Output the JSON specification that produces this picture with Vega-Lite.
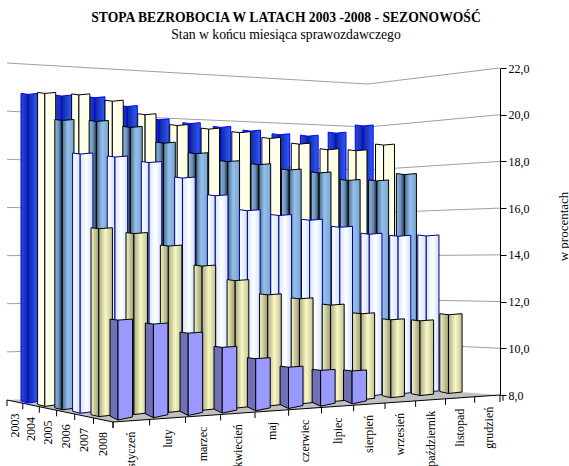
{"$schema":"https://vega.github.io/schema/vega-lite/v6.json","width":500,"height":416,"autosize":"none","padding":{"left":0,"top":50,"right":69,"bottom":0},"background":"white",
"title":{"text":"STOPA BEZROBOCIA W LATACH 2003 -2008 - SEZONOWOŚĆ","subtitle":"Stan w końcu miesiąca sprawozdawczego","anchor":"middle","dx":36,"offset":8,"font":"Liberation Serif","fontSize":13.6,"fontWeight":"bold","color":"black","subtitleFont":"Liberation Serif","subtitleFontSize":13.7,"subtitleColor":"black","subtitlePadding":4},
"config":{"view":{"stroke":null},"text":{"font":"Liberation Serif"}},
"datasets":{"bars":[
{"year":2003,"month":"styczeń","value":20.7},{"year":2003,"month":"luty","value":20.7},{"year":2003,"month":"marzec","value":20.7},{"year":2003,"month":"kwiecień","value":20.4},{"year":2003,"month":"maj","value":19.9},{"year":2003,"month":"czerwiec","value":19.8},{"year":2003,"month":"lipiec","value":19.7},{"year":2003,"month":"sierpień","value":19.6},{"year":2003,"month":"wrzesień","value":19.5},{"year":2003,"month":"październik","value":19.5},{"year":2003,"month":"listopad","value":19.7},{"year":2003,"month":"grudzień","value":20.1},
{"year":2004,"month":"styczeń","value":20.6},{"year":2004,"month":"luty","value":20.6},{"year":2004,"month":"marzec","value":20.4},{"year":2004,"month":"kwiecień","value":19.9},{"year":2004,"month":"maj","value":19.5},{"year":2004,"month":"czerwiec","value":19.4},{"year":2004,"month":"lipiec","value":19.3},{"year":2004,"month":"sierpień","value":19.1},{"year":2004,"month":"wrzesień","value":18.9},{"year":2004,"month":"październik","value":18.7},{"year":2004,"month":"listopad","value":18.7},{"year":2004,"month":"grudzień","value":19.0},
{"year":2005,"month":"styczeń","value":19.4},{"year":2005,"month":"luty","value":19.4},{"year":2005,"month":"marzec","value":19.2},{"year":2005,"month":"kwiecień","value":18.6},{"year":2005,"month":"maj","value":18.2},{"year":2005,"month":"czerwiec","value":17.9},{"year":2005,"month":"lipiec","value":17.8},{"year":2005,"month":"sierpień","value":17.6},{"year":2005,"month":"wrzesień","value":17.5},{"year":2005,"month":"październik","value":17.2},{"year":2005,"month":"listopad","value":17.2},{"year":2005,"month":"grudzień","value":17.5},
{"year":2006,"month":"styczeń","value":18.0},{"year":2006,"month":"luty","value":17.9},{"year":2006,"month":"marzec","value":17.7},{"year":2006,"month":"kwiecień","value":17.1},{"year":2006,"month":"maj","value":16.4},{"year":2006,"month":"czerwiec","value":15.8},{"year":2006,"month":"lipiec","value":15.6},{"year":2006,"month":"sierpień","value":15.4},{"year":2006,"month":"wrzesień","value":15.1},{"year":2006,"month":"październik","value":14.8},{"year":2006,"month":"listopad","value":14.7},{"year":2006,"month":"grudzień","value":14.7},
{"year":2007,"month":"styczeń","value":15.1},{"year":2007,"month":"luty","value":14.9},{"year":2007,"month":"marzec","value":14.4},{"year":2007,"month":"kwiecień","value":13.6},{"year":2007,"month":"maj","value":13.0},{"year":2007,"month":"czerwiec","value":12.4},{"year":2007,"month":"lipiec","value":12.2},{"year":2007,"month":"sierpień","value":11.9},{"year":2007,"month":"wrzesień","value":11.5},{"year":2007,"month":"październik","value":11.2},{"year":2007,"month":"listopad","value":11.1},{"year":2007,"month":"grudzień","value":11.3},
{"year":2008,"month":"styczeń","value":11.7},{"year":2008,"month":"luty","value":11.5},{"year":2008,"month":"marzec","value":11.1},{"year":2008,"month":"kwiecień","value":10.5},{"year":2008,"month":"maj","value":10.0},{"year":2008,"month":"czerwiec","value":9.6},{"year":2008,"month":"lipiec","value":9.4},{"year":2008,"month":"sierpień","value":9.3}],
"grid":[{"v":10},{"v":12},{"v":14},{"v":16},{"v":18},{"v":20},{"v":22}],
"axisv":[{"v":8},{"v":10},{"v":12},{"v":14},{"v":16},{"v":18},{"v":20},{"v":22}],
"months":[{"label":"styczeń","m":0},{"label":"luty","m":1},{"label":"marzec","m":2},{"label":"kwiecień","m":3},{"label":"maj","m":4},{"label":"czerwiec","m":5},{"label":"lipiec","m":6},{"label":"sierpień","m":7},{"label":"wrzesień","m":8},{"label":"październik","m":9},{"label":"listopad","m":10},{"label":"grudzień","m":11}],
"years":[{"label":"2003","s":0},{"label":"2004","s":1},{"label":"2005","s":2},{"label":"2006","s":3},{"label":"2007","s":4},{"label":"2008","s":5}],
"mticks":[{"i":0},{"i":1},{"i":2},{"i":3},{"i":4},{"i":5},{"i":6},{"i":7},{"i":8},{"i":9},{"i":10},{"i":11},{"i":12}],
"sticks":[{"i":0},{"i":1},{"i":2},{"i":3},{"i":4},{"i":5},{"i":6}]},
"layer":[
{"encoding":{"x":{"field":"px","type":"quantitative","scale":{"domain":[0,500],"range":[0,500]},"axis":null},"y":{"field":"py","type":"quantitative","scale":{"domain":[466,50],"range":[416,0]},"axis":null}},
"layer":[
{"data":{"values":[{"c":"A"},{"c":"B"},{"c":"E"},{"c":"C"}]},"transform":[{"calculate":"{'A':7,'B':113,'E':368,'C':500}[datum.c]","as":"px"},{"calculate":"{'A':400,'B':395.6,'E':385,'C':395}[datum.c]","as":"py"},{"calculate":"{'A':400,'B':422,'E':404.2,'C':395}[datum.c]","as":"py2"}],"mark":{"type":"area","orient":"vertical","fill":"#c0c0c0"},"encoding":{"y2":{"field":"py2"}}},
{"data":{"name":"grid"},"transform":[{"fold":["a","b","c"],"as":["pt","k0"]},{"calculate":"{'a':7,'b':368,'c':500}[datum.pt]","as":"px"},{"calculate":"datum.pt=='a'?400-24.07*(datum.v-8):datum.pt=='b'?385-21.5*(datum.v-8):395-23.36*(datum.v-8)","as":"py"}],"mark":{"type":"line","stroke":"#a0a0a0","strokeWidth":1},"encoding":{"detail":{"field":"v"}}},
{"data":{"values":[{"c":"A"},{"c":"B"},{"c":"C"}]},"transform":[{"calculate":"{'A':7,'B':113,'C':500}[datum.c]","as":"px"},{"calculate":"{'A':400,'B':422,'C':395}[datum.c]","as":"py"}],"mark":{"type":"line","stroke":"black","strokeWidth":1}},
{"data":{"name":"mticks"},"transform":[{"calculate":"113+37*datum.i-0.375*datum.i*datum.i","as":"px"},{"calculate":"422-(datum.px-113)*0.0698","as":"py"},{"calculate":"datum.py+6","as":"py2"}],"mark":{"type":"rule","stroke":"black","strokeWidth":1},"encoding":{"y2":{"field":"py2"}}},
{"data":{"name":"sticks"},"transform":[{"calculate":"7+15.4*datum.i+0.38*datum.i*datum.i","as":"px"},{"calculate":"400+(datum.px-7)*22/106","as":"py"},{"calculate":"datum.py+6","as":"py2"}],"mark":{"type":"rule","stroke":"black","strokeWidth":1},"encoding":{"y2":{"field":"py2"}}},
{"data":{"values":[{"c":"a"}]},"transform":[{"calculate":"500","as":"px"},{"calculate":"395","as":"py"},{"calculate":"402","as":"py2"}],"mark":{"type":"rule","stroke":"black","strokeWidth":1},"encoding":{"y2":{"field":"py2"}}},
{"data":{"name":"months"},"transform":[{"calculate":"datum.m+0.5","as":"t"},{"calculate":"113+37*datum.t-0.375*datum.t*datum.t","as":"px"},{"calculate":"422-(datum.px-113)*0.0698+11","as":"py"}],"mark":{"type":"text","angle":270,"align":"right","baseline":"middle","font":"Liberation Serif","fontSize":12,"color":"black"},"encoding":{"text":{"field":"label"}}},
{"data":{"name":"years"},"transform":[{"calculate":"datum.s+0.5","as":"t"},{"calculate":"7+15.4*datum.t+0.38*datum.t*datum.t","as":"px"},{"calculate":"400+(datum.px-7)*22/106+12","as":"py"}],"mark":{"type":"text","angle":270,"align":"right","baseline":"middle","font":"Liberation Serif","fontSize":12,"color":"black"},"encoding":{"text":{"field":"label"}}},
{"data":{"name":"bars"},
"transform":[
{"calculate":"datum.year-2003","as":"s"},
{"calculate":"indexof(['styczeń','luty','marzec','kwiecień','maj','czerwiec','lipiec','sierpień','wrzesień','październik','listopad','grudzień'],datum.month)","as":"m"},
{"calculate":"28+16.5*datum.s+0.3*datum.s*datum.s+(34.1+0.33*datum.s)*datum.m-0.33*datum.m*datum.m","as":"D"},
{"calculate":"datum.D-(7+0.2*datum.s+0.08*datum.m)","as":"L"},
{"calculate":"datum.D+10+0.9*datum.s","as":"R"},
{"calculate":"403+3.4*datum.s-(1.3+0.2*datum.s)*datum.m","as":"Yb"},
{"calculate":"datum.Yb-(24.3+0.54*datum.s-0.235*datum.m)*(datum.value-8)","as":"Yt"},
{"fold":["L","D","R"],"as":["pt","px"]},
{"calculate":"datum.Yt-(datum.pt=='D'?0:1)","as":"py"},
{"calculate":"datum.Yb-(datum.pt=='D'?0:datum.s==5?(datum.pt=='L'?4:3):(datum.pt=='L'?2:1.5))","as":"py2"}],
"encoding":{"y2":{"field":"py2"},"detail":{"field":"month"}},
"layer":[
{"transform":[{"filter":"datum.s==0&&datum.pt!='R'"}],"mark":{"type":"area","orient":"vertical","stroke":"#0000ff","strokeWidth":1,"fill":{"gradient":"linear","x1":0,"x2":1,"y1":0,"y2":0,"stops":[{"offset":0,"color":"#2a48f0"},{"offset":1,"color":"#0f2590"}]}}},
{"transform":[{"filter":"datum.s==0&&datum.pt!='L'"}],"mark":{"type":"area","orient":"vertical","stroke":"#0000ff","strokeWidth":1,"fill":{"gradient":"linear","x1":0,"x2":1,"y1":0,"y2":0,"stops":[{"offset":0,"color":"#10289a"},{"offset":1,"color":"#3058ff"}]}}},
{"transform":[{"filter":"datum.s==1&&datum.pt!='R'"}],"mark":{"type":"area","orient":"vertical","stroke":"#000000","strokeWidth":1,"fill":"#ffffe8"}},
{"transform":[{"filter":"datum.s==1&&datum.pt!='L'"}],"mark":{"type":"area","orient":"vertical","stroke":"#000000","strokeWidth":1,"fill":{"gradient":"linear","x1":0,"x2":1,"y1":0,"y2":0,"stops":[{"offset":0,"color":"#fffff0"},{"offset":1,"color":"#ffffe0"}]}}},
{"transform":[{"filter":"datum.s==2&&datum.pt!='R'"}],"mark":{"type":"area","orient":"vertical","stroke":"#000000","strokeWidth":1,"fill":{"gradient":"linear","x1":0,"x2":1,"y1":0,"y2":0,"stops":[{"offset":0,"color":"#8db8e0"},{"offset":0.55,"color":"#6a90b8"},{"offset":1,"color":"#1a2838"}]}}},
{"transform":[{"filter":"datum.s==2&&datum.pt!='L'"}],"mark":{"type":"area","orient":"vertical","stroke":"#000000","strokeWidth":1,"fill":{"gradient":"linear","x1":0,"x2":1,"y1":0,"y2":0,"stops":[{"offset":0,"color":"#4a6a8c"},{"offset":0.45,"color":"#94c0ea"},{"offset":1,"color":"#78a4d0"}]}}},
{"transform":[{"filter":"datum.s==3&&datum.pt!='R'"}],"mark":{"type":"area","orient":"vertical","stroke":"#000090","strokeWidth":1,"fill":{"gradient":"linear","x1":0,"x2":1,"y1":0,"y2":0,"stops":[{"offset":0,"color":"#ffffff"},{"offset":1,"color":"#d4e2ff"}]}}},
{"transform":[{"filter":"datum.s==3&&datum.pt!='L'"}],"mark":{"type":"area","orient":"vertical","stroke":"#000090","strokeWidth":1,"fill":{"gradient":"linear","x1":0,"x2":1,"y1":0,"y2":0,"stops":[{"offset":0,"color":"#d8e6ff"},{"offset":0.5,"color":"#ffffff"},{"offset":1,"color":"#cfdeff"}]}}},
{"transform":[{"filter":"datum.s==4&&datum.pt!='R'"}],"mark":{"type":"area","orient":"vertical","stroke":"#000000","strokeWidth":1,"fill":{"gradient":"linear","x1":0,"x2":1,"y1":0,"y2":0,"stops":[{"offset":0,"color":"#f5f5c0"},{"offset":1,"color":"#9a9a78"}]}}},
{"transform":[{"filter":"datum.s==4&&datum.pt!='L'"}],"mark":{"type":"area","orient":"vertical","stroke":"#000000","strokeWidth":1,"fill":{"gradient":"linear","x1":0,"x2":1,"y1":0,"y2":0,"stops":[{"offset":0,"color":"#a8a888"},{"offset":0.5,"color":"#f8f8c0"},{"offset":1,"color":"#c0c098"}]}}},
{"transform":[{"filter":"datum.s==5&&datum.pt!='R'"}],"mark":{"type":"area","orient":"vertical","stroke":"#000000","strokeWidth":1,"fill":"#7070b8"}},
{"transform":[{"filter":"datum.s==5&&datum.pt!='L'"}],"mark":{"type":"area","orient":"vertical","stroke":"#000000","strokeWidth":1,"fill":"#9999ff"}}
]}
]},
{"data":{"name":"axisv"},"mark":{"type":"rule","opacity":0},"encoding":{"x":{"datum":500,"type":"quantitative","scale":{"domain":[0,500],"range":[0,500]},"axis":null},"y":{"field":"v","type":"quantitative","scale":{"domain":[8,22],"range":[345,18],"nice":false,"zero":false},"axis":{"orient":"right","values":[8,10,12,14,16,18,20,22],"grid":false,"labelExpr":"replace(format(datum.value,'.1f'),'.',',')","labelFont":"Liberation Serif","labelFontSize":12,"labelColor":"black","labelPadding":2,"tickColor":"black","tickSize":6,"domainColor":"black","title":"w procentach","titleFont":"Liberation Serif","titleFontSize":13,"titleFontWeight":"normal","titleColor":"black","titleAngle":270,"titleX":63,"titleY":176,"titleAlign":"center","titleBaseline":"middle"}}}}
],
"resolve":{"scale":{"y":"independent"},"axis":{"y":"independent"}}}
